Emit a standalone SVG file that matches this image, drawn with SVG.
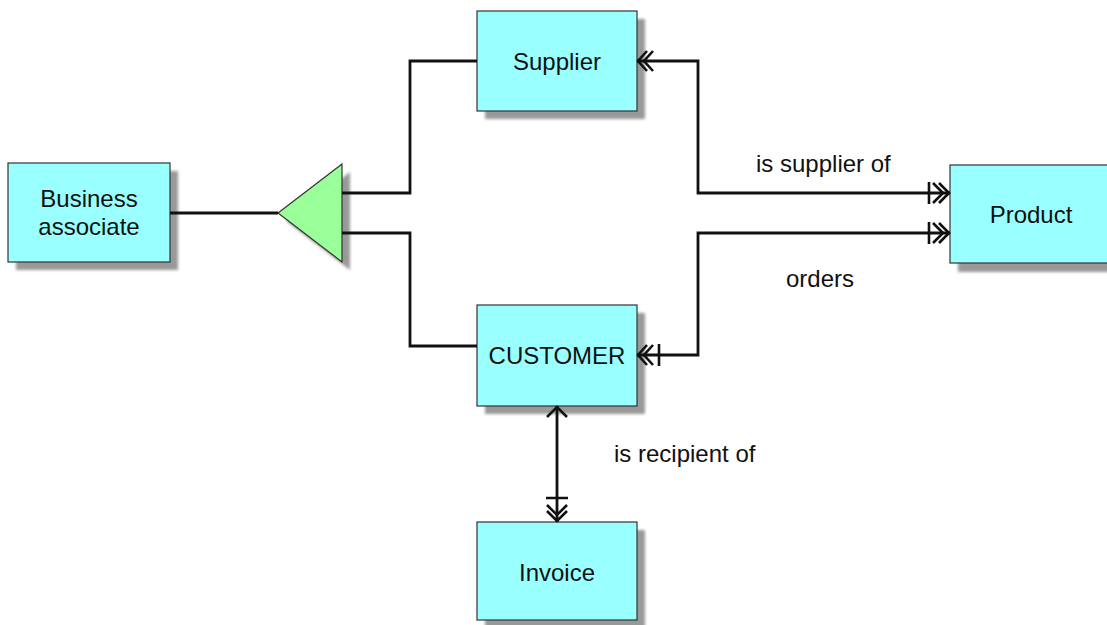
<svg xmlns="http://www.w3.org/2000/svg" width="1107" height="625" viewBox="0 0 1107 625">
<defs>
<filter id="sh" x="-20%" y="-20%" width="140%" height="140%"><feGaussianBlur stdDeviation="1.5"/></filter>
</defs>
<style>
.box{fill:#99FFFF;stroke:#333;stroke-width:1.2}
.shadow{fill:#999;filter:url(#sh)}
.tri{fill:#99FF99;stroke:#333;stroke-width:1.2}
.lbl{font-family:"Liberation Sans",Arial,sans-serif;font-size:24px;fill:#111;text-anchor:middle}
.rel{font-family:"Liberation Sans",Arial,sans-serif;font-size:24px;fill:#111}
.ln{fill:none;stroke:#111;stroke-width:2.8;stroke-linejoin:miter}
.ah{fill:none;stroke:#111;stroke-width:2.6}
</style>
<rect width="1107" height="625" fill="#fff"/>
<g id="business-associate">
<rect class="shadow" x="16" y="171" width="162" height="99"/>
<rect class="box" x="8" y="163" width="162" height="99"/>
<text class="lbl" x="89" y="207">Business</text>
<text class="lbl" x="89" y="235">associate</text>
</g>
<g id="generalization">
<polygon class="shadow" points="286,221 350,172 350,270"/>
<polygon class="tri" points="278,213 342,164 342,262"/>
</g>
<g id="supplier">
<rect class="shadow" x="485" y="19" width="160" height="100"/>
<rect class="box" x="477" y="11" width="160" height="100"/>
<text class="lbl" x="557" y="70">Supplier</text>
</g>
<g id="customer">
<rect class="shadow" x="485" y="313" width="160" height="101"/>
<rect class="box" x="477" y="305" width="160" height="101"/>
<text class="lbl" x="557" y="364">CUSTOMER</text>
</g>
<g id="invoice">
<rect class="shadow" x="485" y="530" width="160" height="99"/>
<rect class="box" x="477" y="522" width="160" height="98"/>
<text class="lbl" x="557" y="581">Invoice</text>
</g>
<g id="product">
<rect class="shadow" x="958" y="173" width="160" height="99"/>
<rect class="box" x="950" y="165" width="160" height="98"/>
<text class="lbl" x="1031" y="223">Product</text>
</g>
<g id="connectors">
<path class="ln" d="M170 213H278"/>
<path class="ln" d="M342 193H410V61H477"/>
<path class="ln" d="M342 233H410V346H477"/>
<path class="ln" d="M637 61H698V193H950"/>
<path class="ln" d="M637 355H698V233H950"/>
<path class="ln" d="M557 406V522"/>
<path class="ah" d="M647 51L638 61L647 71M653 51L644 61L653 71"/>
<path class="ah" d="M929 182V204M939 183L949 193L939 203M933 183L943 193L933 203"/>
<path class="ah" d="M929 222V244M939 223L949 233L939 243M933 223L943 233L933 243"/>
<path class="ah" d="M647 345L638 355L647 365M653 345L644 355L653 365M659 344V366"/>
<path class="ah" d="M547 417L557 407L567 417"/>
<path class="ah" d="M546 498H568M547 511L557 521L567 511M547 505L557 515L567 505"/>
<text class="rel" x="756" y="172">is supplier of</text>
<text class="rel" x="786" y="287">orders</text>
<text class="rel" x="614" y="462">is recipient of</text>
</g>
</svg>
